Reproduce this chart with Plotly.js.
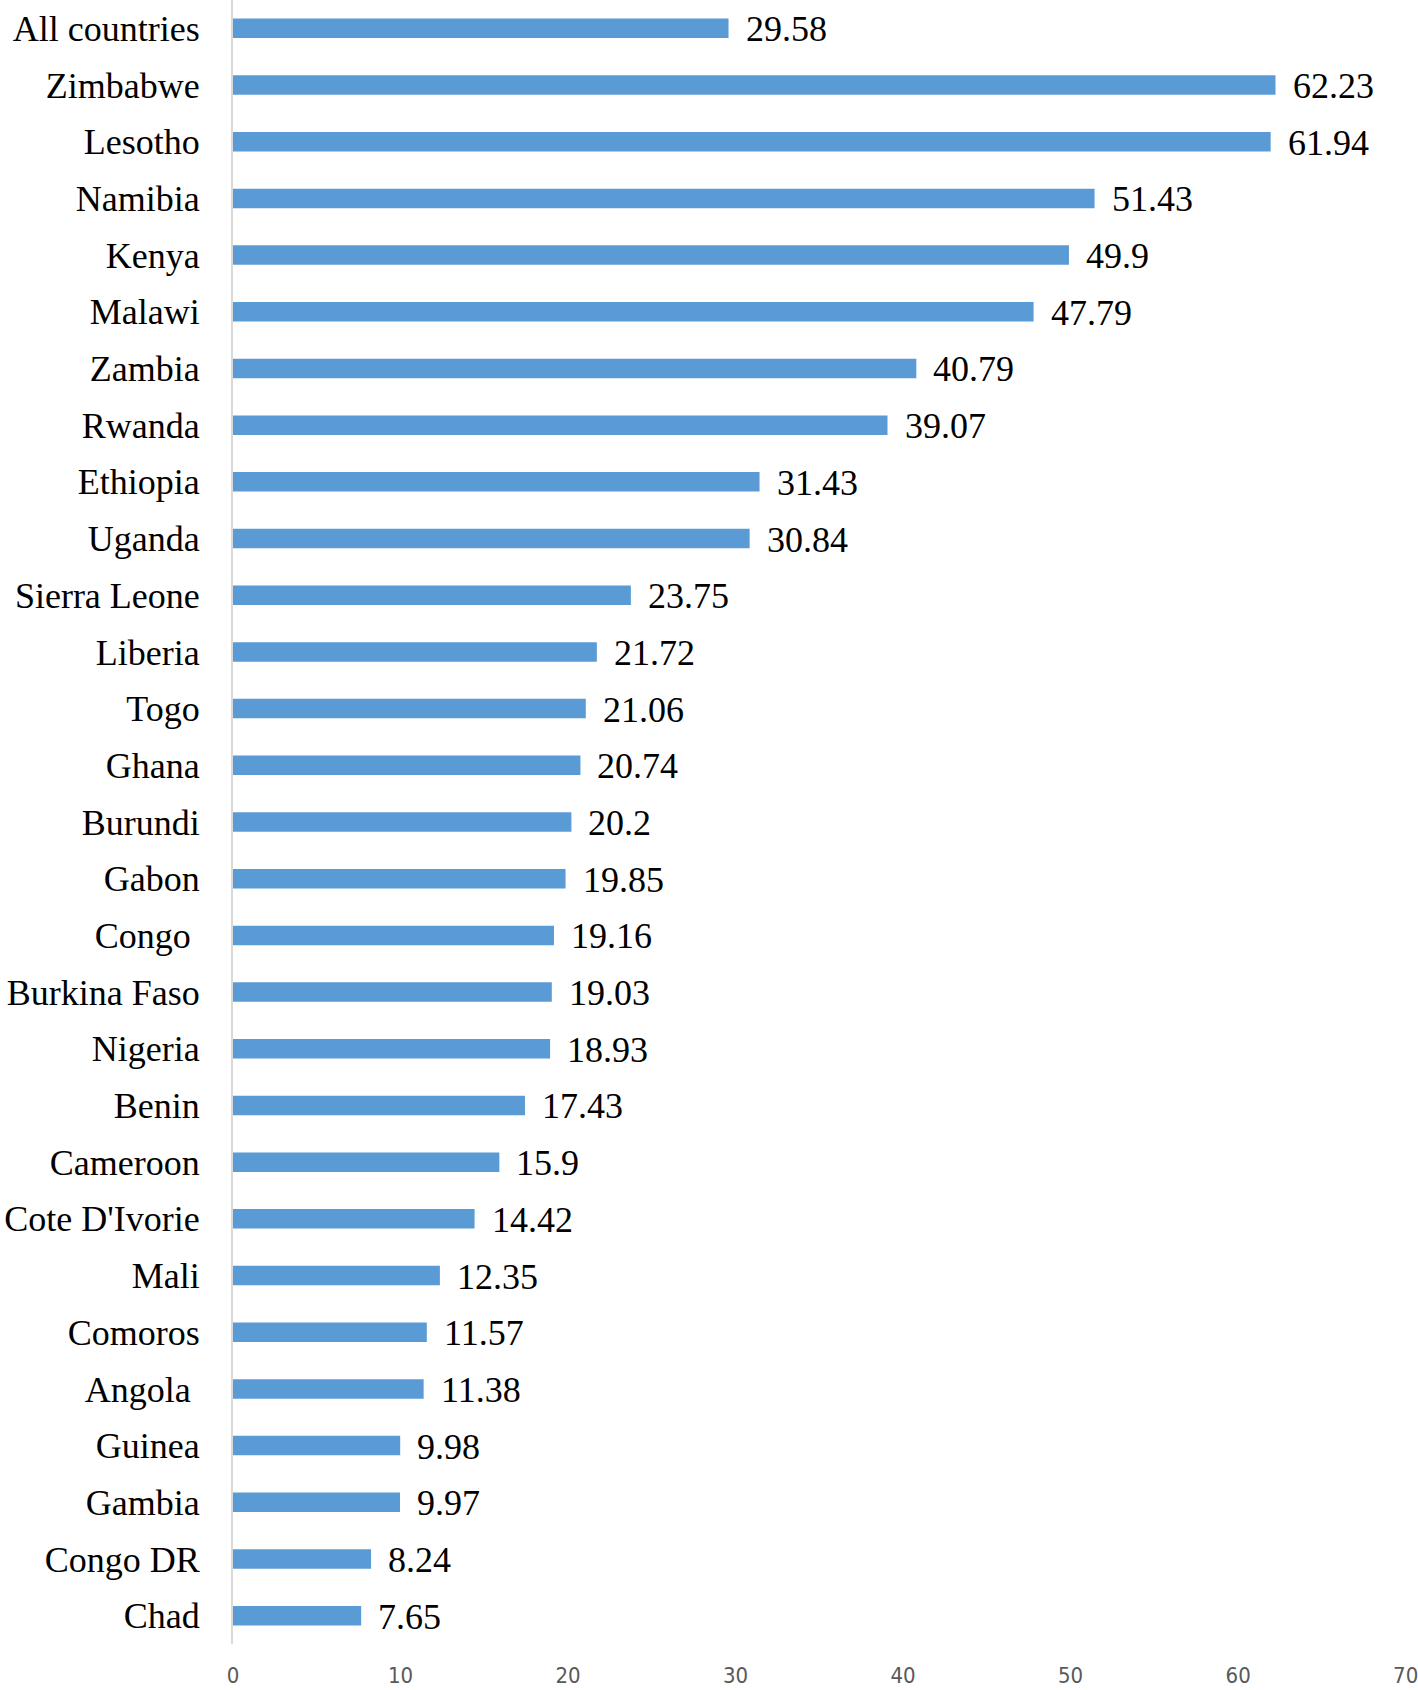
<!DOCTYPE html>
<html>
<head>
<meta charset="utf-8">
<script src="https://cdn.plot.ly/plotly-3.0.1.min.js"></script>
<style>html,body{margin:0;padding:0;background:#fff;}#chart{width:1418px;height:1690px;}</style>
</head>
<body>
<div id="chart"></div>
<script>
const countries = ["All countries","Zimbabwe","Lesotho","Namibia","Kenya","Malawi","Zambia","Rwanda","Ethiopia","Uganda","Sierra Leone","Liberia","Togo","Ghana","Burundi","Gabon","Congo\u00a0","Burkina Faso","Nigeria","Benin","Cameroon","Cote D'Ivorie","Mali","Comoros","Angola\u00a0","Guinea","Gambia","Congo DR","Chad"];
const values = [29.58,62.23,61.94,51.43,49.9,47.79,40.79,39.07,31.43,30.84,23.75,21.72,21.06,20.74,20.2,19.85,19.16,19.03,18.93,17.43,15.9,14.42,12.35,11.57,11.38,9.98,9.97,8.24,7.65];
const labels = ["29.58","62.23","61.94","51.43","49.9","47.79","40.79","39.07","31.43","30.84","23.75","21.72","21.06","20.74","20.2","19.85","19.16","19.03","18.93","17.43","15.9","14.42","12.35","11.57","11.38","9.98","9.97","8.24","7.65"];
const xTicks = [0,10,20,30,40,50,60,70];

const trace = {
  type: 'bar', orientation: 'h',
  x: values, y: countries,
  marker: {color: '#5b9bd5'},
  hoverinfo: 'none'
};
const annotations = values.map((v, i) => ({
  x: v, y: countries[i], xref: 'x', yref: 'y',
  text: labels[i], showarrow: false, xanchor: 'left', yanchor: 'middle',
  xshift: 15, yshift: -1,
  font: {family: 'Liberation Serif, Times New Roman, serif', size: 36, color: '#000'}
}));
const layout = {
  width: 1418, height: 1690,
  margin: {l: 233, r: 12, t: 0, b: 46},
  paper_bgcolor: '#fff', plot_bgcolor: '#fff',
  bargap: 0.656,
  showlegend: false,
  xaxis: {
    range: [0, 70.02], tickvals: xTicks, ticktext: xTicks.map(String),
    ticklabeloverflow: 'allow',
    showgrid: false, zeroline: false, showline: false,
    ticks: 'outside', ticklen: 12, tickcolor: 'rgba(0,0,0,0)',
    tickfont: {family: 'Liberation Sans Narrow, DejaVu Sans Condensed, sans-serif', size: 22, color: '#595959'},
    fixedrange: true
  },
  yaxis: {
    autorange: 'reversed', type: 'category',
    showgrid: false, zeroline: false,
    showline: true, linecolor: '#d9d9d9', linewidth: 2,
    ticks: 'outside', ticklen: 24, tickcolor: 'rgba(0,0,0,0)',
    tickfont: {family: 'Liberation Serif, Times New Roman, serif', size: 36, color: '#000'},
    fixedrange: true
  },
  annotations: annotations
};
Plotly.newPlot('chart', [trace], layout, {staticPlot: true});
</script>
</body>
</html>
